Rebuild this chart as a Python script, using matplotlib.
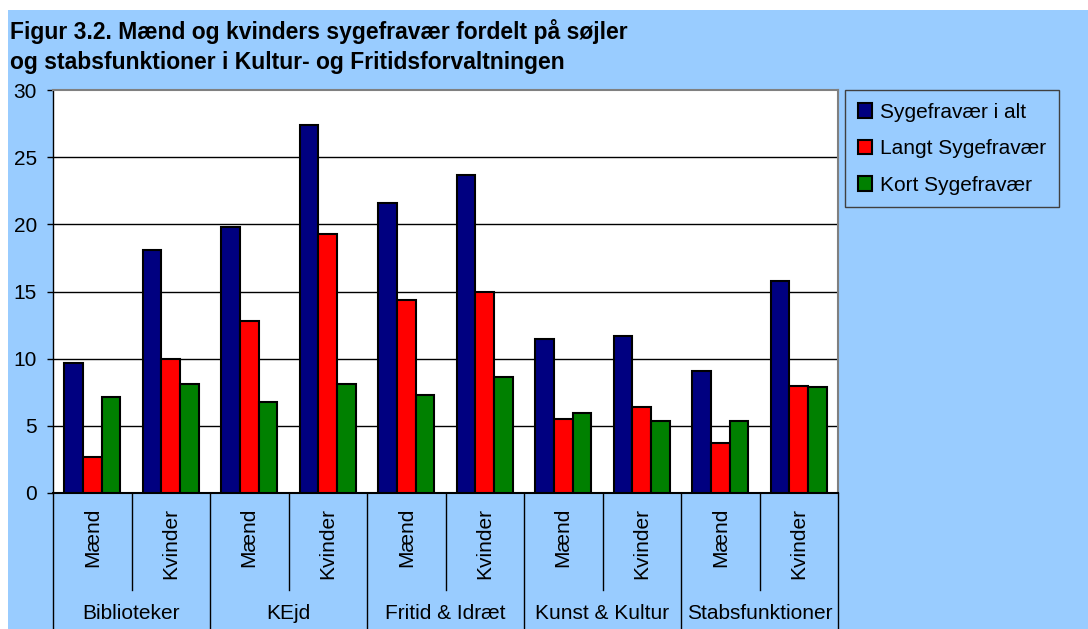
import matplotlib.pyplot as plt
from matplotlib.patches import Rectangle
import numpy as np

plt.rcParams['font.family'] = ['Liberation Sans', 'DejaVu Sans']

groups = ['Biblioteker', 'KEjd', 'Fritid & Idræt', 'Kunst & Kultur', 'Stabsfunktioner']
genders = ['Mænd', 'Kvinder']
series = ['Sygefravær i alt', 'Langt Sygefravær', 'Kort Sygefravær']

total = [9.7, 18.1, 19.8, 27.4, 21.6, 23.7, 11.5, 11.7, 9.1, 15.8]
long_abs = [2.7, 10.0, 12.8, 19.3, 14.4, 15.0, 5.5, 6.4, 3.7, 8.0]
short_abs = [7.15, 8.15, 6.8, 8.15, 7.3, 8.6, 5.95, 5.35, 5.35, 7.9]

colors = ['#000080', '#FF0000', '#008000']
bg = '#99CCFF'

fig = plt.figure(figsize=(10.88, 6.29), dpi=100, facecolor='white')
fig.patches.append(Rectangle((8/1088, 0), 1, (629-10)/629, transform=fig.transFigure,
                             facecolor=bg, edgecolor='none', zorder=-10))

ax = fig.add_axes([53/1088, (629-493)/629, 785/1088, 403/629])
ax.set_facecolor('white')

n = len(total)
x = np.arange(n) + 0.5
w = 0.238
for i, (vals, c, lab) in enumerate(zip([total, long_abs, short_abs], colors, series)):
    ax.bar(x + (i - 1) * w, vals, width=w, color=c, edgecolor='black', linewidth=1.5,
           label=lab, zorder=3)

ax.set_xlim(0, n)
ax.set_ylim(0, 30)
ax.set_yticks(range(0, 31, 5))
ax.tick_params(axis='y', labelsize=15, length=4, width=1, pad=7.5, direction='out')
ax.set_xticks([])
for yv in range(5, 30, 5):
    ax.axhline(yv, color='black', lw=1, zorder=1)

for s in ['top', 'right']:
    ax.spines[s].set_color('#808080')
    ax.spines[s].set_linewidth(1.5)
ax.spines['left'].set_linewidth(1)
ax.spines['bottom'].set_linewidth(1.5)

# category separators below the axis
tr = ax.get_xaxis_transform()
for b in range(n + 1):
    yend = -0.3375 if b % 2 == 0 else -0.241
    ax.plot([b, b], [0, yend], color='black', lw=1, transform=tr, clip_on=False)

for j in range(n):
    ax.text(j + 0.5, -0.036, genders[j % 2], rotation=90, ha='center', va='top',
            fontsize=15, transform=tr)
for g, name in enumerate(groups):
    ax.text(2 * g + 1, -0.298, name, ha='center', va='center', fontsize=15, transform=tr)

fig.text(10/1088, 1 - 31/629, 'Figur 3.2. Mænd og kvinders sygefravær fordelt på søjler',
         fontsize=16.5, fontweight='bold', va='center', ha='left')
fig.text(10/1088, 1 - 62/629, 'og stabsfunktioner i Kultur- og Fritidsforvaltningen',
         fontsize=16.5, fontweight='bold', va='center', ha='left')

leg = ax.legend(loc='upper left', bbox_to_anchor=(845/1088, 1 - 90/629),
                bbox_transform=fig.transFigure, fontsize=15, frameon=True,
                fancybox=False, facecolor=bg, edgecolor='#404040',
                handlelength=0.7, handleheight=0.7, handletextpad=0.4,
                labelspacing=0.85, borderpad=0.6, borderaxespad=0)
leg.get_frame().set_linewidth(1)
leg.get_frame().set_alpha(None)

fig.savefig('out.png', dpi=100, facecolor=fig.get_facecolor())
